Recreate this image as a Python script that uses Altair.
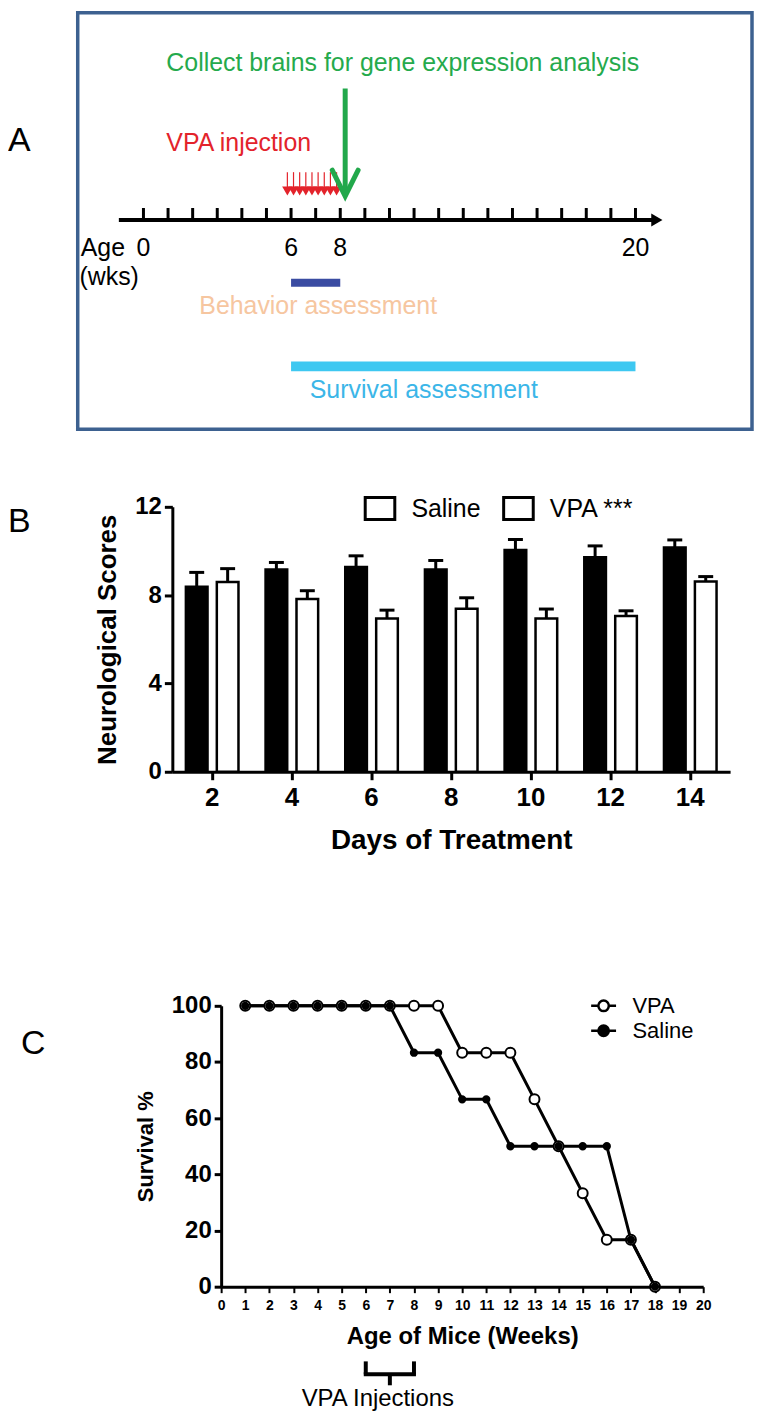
import altair as alt
import pandas as pd

FONT = "Liberation Sans"

# ---------------- Panel A : study timeline (weeks of age) ----------------
timeline_weeks = [0, 1, 2, 3, 4, 5, 6, 7, 8, 9, 10, 11, 12, 13, 14, 15, 16, 17, 18, 19, 20]
timeline_label_weeks = [0, 6, 8, 20]
timeline_labels = ["0", "6", "8", "20"]
timeline_extent = [-1.0, 20.87]
injection_weeks = [5.85, 6.1, 6.35, 6.6, 6.85, 7.1, 7.35, 7.6, 7.85]
collect_week = [8.2]
behavior_weeks = [6, 8]
survival_weeks = [6, 20]

# ---------------- Panel B : neurological scores ----------------
days = ["2", "4", "6", "8", "10", "12", "14"]
saline_mean = [8.38, 9.16, 9.28, 9.16, 10.05, 9.72, 10.16]
saline_upper = [9.03, 9.48, 9.78, 9.57, 10.52, 10.23, 10.50]
vpa_mean = [8.60, 7.82, 6.94, 7.38, 6.94, 7.05, 8.62]
vpa_upper = [9.20, 8.20, 7.32, 7.88, 7.37, 7.29, 8.84]

# ---------------- Panel C : survival ----------------
age_weeks = [1, 2, 3, 4, 5, 6, 7, 8, 9, 10, 11, 12, 13, 14, 15, 16, 17, 18]
vpa_survival = [100, 100, 100, 100, 100, 100, 100, 100, 100, 83.3, 83.3, 83.3, 66.7, 50, 33.3, 16.7, 16.7, 0]
saline_survival = [100, 100, 100, 100, 100, 100, 100, 83.3, 83.3, 66.7, 66.7, 50, 50, 50, 50, 50, 16.7, 0]
injection_span = [6, 8]

# =====================================================================
# Panel A
XA = alt.Scale(domain=[-2.672, 24.737], nice=False, zero=False)


def xa(field):
    return alt.X(field, type="quantitative", scale=XA, axis=None)


def xad(v):
    return alt.XDatum(v, type="quantitative", scale=XA, axis=None)


def text_layer(txt, xenc, ypx, color, size=25, align="left", weight="normal"):
    return alt.Chart(pd.DataFrame({"t": [txt]})).mark_text(
        font=FONT, fontSize=size, color=color, align=align, baseline="middle", fontWeight=weight
    ).encode(x=xenc, y=alt.value(ypx), text="t:N")


df_line = pd.DataFrame({"start": [timeline_extent[0]], "end": [timeline_extent[1]]})
a_line = alt.Chart(df_line).mark_rule(color="black", strokeWidth=4).encode(
    x=xa("start"), x2="end", y=alt.value(208))
a_head = alt.Chart(df_line).mark_point(shape="triangle-right", filled=True, color="black",
                                       size=169, opacity=1).encode(x=xa("end"), y=alt.value(208))
a_ticks = alt.Chart(pd.DataFrame({"week": timeline_weeks})).mark_rule(
    color="black", strokeWidth=3).encode(x=xa("week"), y=alt.value(196), y2=alt.value(208))
a_tlab = alt.Chart(pd.DataFrame({"week": timeline_label_weeks, "label": timeline_labels})).mark_text(
    font=FONT, fontSize=25, color="black", baseline="middle").encode(
    x=xa("week"), y=alt.value(236), text="label:N")

df_inj = pd.DataFrame({"week": injection_weeks})
a_inj_shaft = alt.Chart(df_inj).mark_rule(color="#e3232b", strokeWidth=1.2).encode(
    x=xa("week"), y=alt.value(160), y2=alt.value(176))
a_inj_head = alt.Chart(df_inj).mark_point(shape="triangle-down", filled=True, color="#e3232b",
                                          size=110, opacity=1).encode(x=xa("week"), y=alt.value(179))

df_col = pd.DataFrame({"week": collect_week})
a_col_shaft = alt.Chart(df_col).mark_rule(color="#22a84b", strokeWidth=5).encode(
    x=xa("week"), y=alt.value(76), y2=alt.value(182))
a_col_head = alt.Chart(df_col).mark_point(shape="M-1,-2L0,0L1,-2", filled=False, color="#22a84b",
                                          size=676, strokeWidth=5, strokeCap="round",
                                          opacity=1).encode(x=xa("week"), y=alt.value(184))

df_beh = pd.DataFrame({"start": [behavior_weeks[0]], "end": [behavior_weeks[1]]})
a_beh = alt.Chart(df_beh).mark_rule(color="#3a4ca2", strokeWidth=8).encode(
    x=xa("start"), x2="end", y=alt.value(271))
df_sur = pd.DataFrame({"start": [survival_weeks[0]], "end": [survival_weeks[1]]})
a_sur = alt.Chart(df_sur).mark_rule(color="#3ec8f1", strokeWidth=10).encode(
    x=xa("start"), x2="end", y=alt.value(355))

a_texts = [
    text_layer("Collect brains for gene expression analysis", xad(0.93), 50, "#25aa4c"),
    text_layer("VPA injection", xad(0.93), 131, "#e3232b"),
    text_layer("Age", xad(-2.55), 236, "black"),
    text_layer("(wks)", xad(-2.6), 265, "black"),
    text_layer("Behavior assessment", xad(2.27), 294, "#f6c6a0"),
    text_layer("Survival assessment", xad(6.76), 379, "#3bb6e8"),
]

chartA = alt.layer(a_line, a_head, a_ticks, a_tlab, a_inj_shaft, a_inj_head, a_col_shaft,
                   a_col_head, a_beh, a_sur, *a_texts).properties(
    width=677, height=418,
    view=alt.ViewBackground(stroke="#3d6190", strokeWidth=3.5))

# =====================================================================
# Panel B
dfB = pd.DataFrame({
    "Day": days * 2,
    "Group": ["Saline"] * len(days) + ["VPA"] * len(days),
    "Score": saline_mean + vpa_mean,
    "Upper": saline_upper + vpa_upper,
})

axis_xB = alt.Axis(labelAngle=0, title="Days of Treatment", titleFont=FONT, titleFontSize=28,
                   titleFontWeight="bold", titleColor="black", titlePadding=16,
                   labelFont=FONT, labelFontSize=26, labelFontWeight="bold", labelColor="black",
                   labelPadding=5, tickSize=8, tickWidth=3, tickColor="black",
                   domainWidth=3, domainColor="black", grid=False)
axis_yB = alt.Axis(values=[0, 4, 8, 12], title="Neurological Scores", titleFont=FONT,
                   titleFontSize=26, titleFontWeight="bold", titleColor="black", titlePadding=14,
                   labelFont=FONT, labelFontSize=24, labelFontWeight="bold", labelColor="black",
                   labelPadding=3, tickSize=8, tickWidth=3, tickColor="black",
                   domainWidth=3, domainColor="black", grid=False)

xB = alt.X("Day:N", sort=days, scale=alt.Scale(paddingInner=0.34, paddingOuter=0.17), axis=axis_xB)
xoB = alt.XOffset("Group:N", sort=["Saline", "VPA"],
                  scale=alt.Scale(paddingInner=0.3, paddingOuter=0))
ysB = alt.Scale(domain=[0, 12], nice=False)

# legends are placed by Vega-Lite in the top-level group: coordinates are page-relative
legendB = alt.Legend(title=None, orient="none", legendX=361, legendY=485, direction="horizontal",
                     symbolType="M-1.35,-1H1.35V1H-1.35Z", symbolSize=484, symbolStrokeWidth=3,
                     symbolFillColor="white", labelFont=FONT, labelFontSize=25, labelColor="black",
                     labelOffset=19, columnPadding=16, padding=0,
                     labelExpr="datum.label == 'VPA' ? 'VPA ***' : datum.label")

b_bars = alt.Chart(dfB).mark_bar(strokeWidth=2.5).encode(
    x=xB, xOffset=xoB,
    y=alt.Y("Score:Q", scale=ysB, axis=axis_yB),
    fill=alt.condition("datum.Group == 'Saline'", alt.value("black"), alt.value("white")),
    stroke=alt.Stroke("Group:N", scale=alt.Scale(domain=["Saline", "VPA"], range=["black", "black"]),
                      legend=legendB),
)
b_err = alt.Chart(dfB).mark_rule(color="black", strokeWidth=3).encode(
    x=xB, xOffset=xoB, y=alt.Y("Score:Q", scale=ysB, axis=axis_yB), y2="Upper:Q")
b_cap = alt.Chart(dfB).mark_tick(color="black", thickness=3, size=15, opacity=1).encode(
    x=xB, xOffset=xoB, y=alt.Y("Upper:Q", scale=ysB, axis=axis_yB))

chartB = alt.layer(b_bars, b_err, b_cap).properties(width=560, height=266)

# =====================================================================
# Panel C
dfC = pd.DataFrame({
    "Week": age_weeks * 2,
    "Survival": vpa_survival + saline_survival,
    "Group": ["VPA"] * len(age_weeks) + ["Saline"] * len(age_weeks),
})

axis_xC = alt.Axis(values=timeline_weeks, title="Age of Mice (Weeks)", titleFont=FONT,
                   titleFontSize=24, titleFontWeight="bold", titleColor="black", titlePadding=12,
                   labelFont=FONT, labelFontSize=14, labelFontWeight="bold", labelColor="black",
                   labelPadding=6, labelFlush=False, labelOverlap=False, tickSize=6, tickWidth=2,
                   tickColor="black", domainWidth=3, domainColor="black", grid=False)
axis_yC = alt.Axis(values=[0, 20, 40, 60, 80, 100], title="Survival %", titleFont=FONT,
                   titleFontSize=22, titleFontWeight="bold", titleColor="black", titlePadding=14,
                   labelFont=FONT, labelFontSize=24, labelFontWeight="bold", labelColor="black",
                   labelPadding=3, tickSize=7, tickWidth=3, tickColor="black",
                   domainWidth=3, domainColor="black", grid=False)
xsC = alt.Scale(domain=[0, 20], nice=False, zero=False)
ysC = alt.Scale(domain=[0, 100], nice=False)


def xc(field):
    return alt.X(field, type="quantitative", scale=xsC, axis=axis_xC)


yC = alt.Y("Survival:Q", scale=ysC, axis=axis_yC)

legendC = alt.Legend(title=None, orient="none", legendX=584, legendY=983, direction="vertical",
                     symbolType="M-1,0H-0.42M0.42,0H1M0.42,0A0.42,0.42,0,1,1,-0.42,0A0.42,0.42,0,1,1,0.42,0",
                     symbolSize=625, symbolStrokeColor="black", symbolStrokeWidth=2.5,
                     labelFont=FONT, labelFontSize=22, labelColor="black", labelOffset=15,
                     rowPadding=0, padding=0)
fillC = alt.Fill("Group:N", scale=alt.Scale(domain=["VPA", "Saline"], range=["white", "black"]),
                 legend=legendC)

c_lines = alt.Chart(dfC).mark_line(color="black", strokeWidth=3).encode(
    x=xc("Week"), y=yC, detail="Group:N")
c_vpa = alt.Chart(dfC).transform_filter("datum.Group == 'VPA'").mark_point(
    filled=True, size=100, stroke="black", strokeWidth=2, opacity=1).encode(
    x=xc("Week"), y=yC, fill=fillC)
c_sal = alt.Chart(dfC).transform_filter("datum.Group == 'Saline'").mark_point(
    filled=True, size=40, stroke="black", strokeWidth=2, opacity=1).encode(
    x=xc("Week"), y=yC, fill=fillC)

df_span = pd.DataFrame({"start": [injection_span[0]], "end": [injection_span[1]],
                        "mid": [(injection_span[0] + injection_span[1]) / 2]})
df_ends = pd.DataFrame({"w": injection_span})
c_br_h = alt.Chart(df_span).mark_rule(color="black", strokeWidth=4, strokeCap="square").encode(
    x=xc("start"), x2="end", y=alt.value(370))
c_br_e = alt.Chart(df_ends).mark_rule(color="black", strokeWidth=4).encode(
    x=xc("w"), y=alt.value(357), y2=alt.value(370))
c_br_m = alt.Chart(df_span).mark_rule(color="black", strokeWidth=4).encode(
    x=xc("mid"), y=alt.value(370), y2=alt.value(381))
c_br_t = alt.Chart(pd.DataFrame({"t": ["VPA Injections"]})).mark_text(
    font=FONT, fontSize=24, color="black", align="center", baseline="middle").encode(
    x=alt.XDatum(6.5, type="quantitative", scale=xsC, axis=axis_xC), y=alt.value(395), text="t:N")

chartC = alt.layer(c_lines, c_vpa, c_sal, c_br_h, c_br_e, c_br_m, c_br_t).properties(
    width=484, height=282)


# =====================================================================
def panel_label(letter, w, h, xpx, ypx):
    return alt.Chart(pd.DataFrame({"t": [letter]})).mark_text(
        font=FONT, fontSize=34, color="black", align="left", baseline="middle").encode(
        text="t:N", x=alt.value(xpx), y=alt.value(ypx)).properties(width=w, height=h)


rowA = alt.hconcat(panel_label("A", 68, 418, 0, 129), chartA, spacing=0)
rowB = alt.hconcat(panel_label("B", 87, 266, 0, 15), chartB, spacing=0)
rowC = alt.hconcat(panel_label("C", 126, 282, 13, 38), chartC, spacing=0)

top = alt.vconcat(rowA, rowB, spacing=64)
chart = alt.vconcat(top, rowC, spacing=140).properties(padding=0).configure(
    font=FONT).configure_view(strokeWidth=0)

chart.save("out.html", embed_options={"renderer": "svg", "actions": False})
